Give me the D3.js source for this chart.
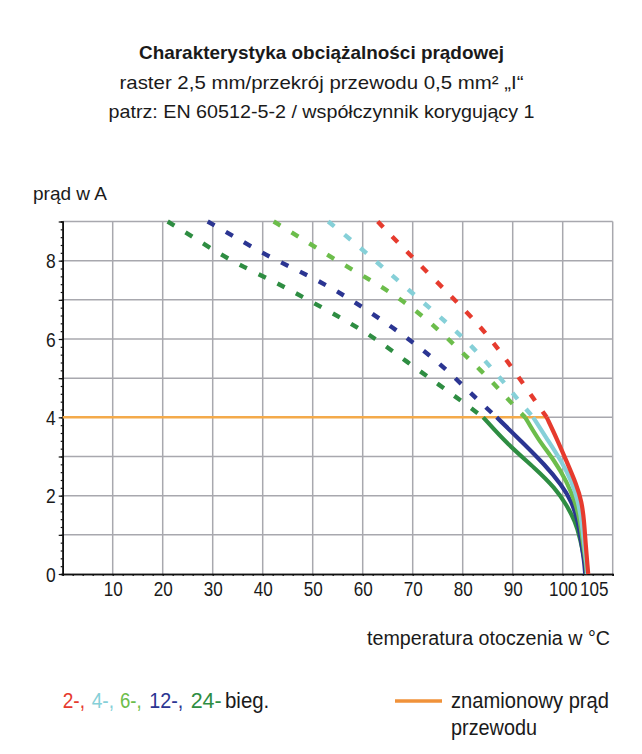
<!DOCTYPE html>
<html><head><meta charset="utf-8">
<script src="https://cdn.jsdelivr.net/npm/d3@7"></script>
<style>
html,body{margin:0;padding:0;background:#fff;}
svg{display:block;}
text{font-family:"Liberation Sans Narrow","Liberation Sans",Arial,sans-serif;fill:#1a1a1a;}
</style></head>
<body><svg id="c" width="642" height="754"></svg>
<script>
// ---- data ----
const titleLines = ["Charakterystyka obciążalności prądowej",
  "raster 2,5 mm/przekrój przewodu 0,5 mm² „I“",
  "patrz: EN 60512-5-2 / współczynnik korygujący 1"];
const xTickLabels = [10,20,30,40,50,60,70,80,90,100,105];
const yTickLabels = [0,2,4,6,8];
const seriesNames = ["2-", "4-", "6-", "12-", "24-"];
const seriesColors = ["#e63b2e", "#86d0d8", "#6cbd4b", "#2b3592", "#2e8d42"];
// dashed (extrapolated) part: [temperature, current]
const dash2  = [[63.0,9.0],[69.5,8.14],[77.9,7.07],[83.7,6.30],[87.9,5.62],[92.7,4.75],[96.8,4.0]];
const dash4  = [[53.1,9.0],[57.6,8.54],[63.5,7.89],[70.1,7.15],[77.0,6.40],[82.0,5.80],[87.3,5.04],[92.1,4.29],[94.1,4.0]];
const dash6  = [[42.2,9.0],[47.5,8.59],[54.5,8.02],[61.8,7.49],[68.7,6.93],[75.1,6.25],[80.1,5.63],[85.8,4.93],[90.7,4.23],[92.5,4.0]];
const dash12 = [[29.0,9.0],[34.0,8.64],[41.3,8.09],[49.1,7.63],[56.3,7.12],[63.1,6.55],[70.1,5.92],[76.3,5.28],[82.3,4.53],[86.8,4.0]];
const dash24 = [[21.0,9.0],[26.0,8.61],[33.6,7.99],[42.5,7.46],[49.3,6.98],[56.3,6.50],[62.5,6.02],[68.8,5.42],[75.3,4.83],[81.3,4.27],[84.1,4.0]];
// solid part
const solid2  = [[96.8,4.0],[98.8,3.46],[100.8,2.87],[102.8,2.27],[103.8,1.85],[104.3,1.34],[104.6,0.74],[105.0,0.15],[105.1,0.0]];
const solid4  = [[94.1,4.0],[96.8,3.46],[99.8,2.87],[101.8,2.36],[103.1,1.85],[103.8,1.34],[104.3,0.74],[104.8,0.23],[104.9,0.0]];
const solid6  = [[92.5,4.0],[95.1,3.43],[98.5,2.87],[100.8,2.36],[102.5,1.85],[103.5,1.34],[104.1,0.74],[104.7,0.23],[104.8,0.0]];
const solid12 = [[86.8,4.0],[91.8,3.38],[96.5,2.78],[99.8,2.27],[101.8,1.85],[103.1,1.34],[103.8,0.74],[104.3,0.32],[104.5,0.0]];
const solid24 = [[84.1,4.0],[89.1,3.29],[94.5,2.70],[98.5,2.19],[100.8,1.76],[102.5,1.34],[103.5,0.91],[104.3,0.40],[104.8,0.1],[104.9,0.0]];
const ratedCurrent = 4;
const ratedEnd = 96.8;

const dashSets = [dash2, dash4, dash6, dash12, dash24];
const solidSets = [solid2, solid4, solid6, solid12, solid24];

// ---- drawing ----
const svg = d3.select("#c");
const x = d3.scaleLinear().domain([0,110]).range([62.7,612.7]);
const y = d3.scaleLinear().domain([0,9]).range([574,221.5]);

// titles
const tw = [365, 404, 426];
const tb = [59, 89, 118];
titleLines.forEach((t,i)=>{
  svg.append("text").attr("x",321.5).attr("y",tb[i]).attr("text-anchor","middle")
    .attr("font-size",19).attr("font-weight", i===0?"bold":"normal")
    .attr("textLength", tw[i]).attr("lengthAdjust","spacingAndGlyphs").text(t);
});

// grid
const grid = svg.append("g").attr("stroke","#a8a8ae").attr("stroke-width",1.5);
grid.selectAll("line.v").data(d3.range(10,111,10)).join("line")
  .attr("x1",d=>x(d)).attr("x2",d=>x(d)).attr("y1",y(0)).attr("y2",y(9));
grid.selectAll("line.h").data(d3.range(1,10)).join("line")
  .attr("x1",x(0)).attr("x2",x(110)).attr("y1",d=>y(d)).attr("y2",d=>y(d));

// axes
const yMinor = svg.append("g").attr("transform",`translate(${x(0)},0)`)
  .call(d3.axisLeft(y).tickValues(d3.range(0,9.001,0.2)).tickSize(2).tickFormat(""));
const yMajor = svg.append("g").attr("transform",`translate(${x(0)},0)`)
  .call(d3.axisLeft(y).tickValues(d3.range(0,10,1)).tickSize(4).tickSizeOuter(0)
    .tickFormat(d=> yTickLabels.includes(d) ? d : ""));
yMajor.selectAll("text").attr("font-size",20).attr("x",-7).attr("dy","0.36em")
  .attr("textLength",d=> yTickLabels.includes(d) ? 9.7 : null).attr("lengthAdjust","spacingAndGlyphs");
const xMinor = svg.append("g").attr("transform",`translate(0,${y(0)})`)
  .call(d3.axisBottom(x).tickValues(d3.range(0,110.001,2)).tickSize(2).tickFormat(""));
const xMajor = svg.append("g").attr("transform",`translate(0,${y(0)})`)
  .call(d3.axisBottom(x).tickValues(xTickLabels).tickSize(0).tickSizeOuter(0));
xMajor.selectAll("text").attr("font-size",20).attr("y",8).attr("dy","0.71em")
  .attr("dx",d=> d===105 ? 6 : 0)
  .attr("textLength",d=> String(d).length*9.5).attr("lengthAdjust","spacingAndGlyphs");
[yMinor,yMajor,xMinor,xMajor].forEach(g=>{
  g.select(".domain").attr("stroke","#111").attr("stroke-width",1.6);
  g.selectAll(".tick line").attr("stroke","#111").attr("stroke-width",1.2);
  g.selectAll("text").attr("fill","#1a1a1a").attr("font-family",null);
});

// rated current line
svg.append("line").attr("x1",x(0)).attr("x2",x(ratedEnd)).attr("y1",y(ratedCurrent)).attr("y2",y(ratedCurrent))
  .attr("stroke","#f4aa4a").attr("stroke-width",2.5);

const line = d3.line().x(d=>x(d[0])).y(d=>y(d[1])).curve(d3.curveBasis);
// draw in order: 24 first so red on top
for (let i = seriesNames.length-1; i>=0; i--) {
  svg.append("path").attr("d", line(dashSets[i])).attr("fill","none")
    .attr("stroke", seriesColors[i]).attr("stroke-width",4.4).attr("stroke-dasharray","8,13");
}
for (let i = seriesNames.length-1; i>=0; i--) {
  svg.append("path").attr("d", line(solidSets[i])).attr("fill","none")
    .attr("stroke", seriesColors[i]).attr("stroke-width",4.2).attr("stroke-linecap","butt");
}

// axis titles
svg.append("text").attr("x",33).attr("y",200).attr("font-size",19)
  .attr("textLength",74).attr("lengthAdjust","spacingAndGlyphs").text("prąd w A");
svg.append("text").attr("x",610).attr("y",645).attr("font-size",20).attr("text-anchor","end")
  .attr("textLength",243).attr("lengthAdjust","spacingAndGlyphs").text("temperatura otoczenia w °C");

// legend
const legX = [62.7, 91.7, 120, 149.3, 190.7];
const legW = [22.3, 22.3, 21.7, 34, 31];
seriesNames.forEach((s,i)=>{
  svg.append("text").attr("x",legX[i]).attr("y",707.5).attr("font-size",22)
    .attr("fill",seriesColors[i]).style("fill",seriesColors[i])
    .attr("textLength",legW[i]).attr("lengthAdjust","spacingAndGlyphs")
    .text(s + (i<seriesNames.length-1 ? "," : ""));
});
svg.append("text").attr("x",225).attr("y",707.5).attr("font-size",22)
  .attr("textLength",44.3).attr("lengthAdjust","spacingAndGlyphs").text("bieg.");

svg.append("line").attr("x1",395).attr("x2",442).attr("y1",701).attr("y2",701)
  .attr("stroke","#f0923a").attr("stroke-width",3.5);
svg.append("text").attr("x",451).attr("y",708).attr("font-size",22)
  .attr("textLength",158).attr("lengthAdjust","spacingAndGlyphs").text("znamionowy prąd");
svg.append("text").attr("x",451).attr("y",735).attr("font-size",22)
  .attr("textLength",86).attr("lengthAdjust","spacingAndGlyphs").text("przewodu");
</script></body></html>
